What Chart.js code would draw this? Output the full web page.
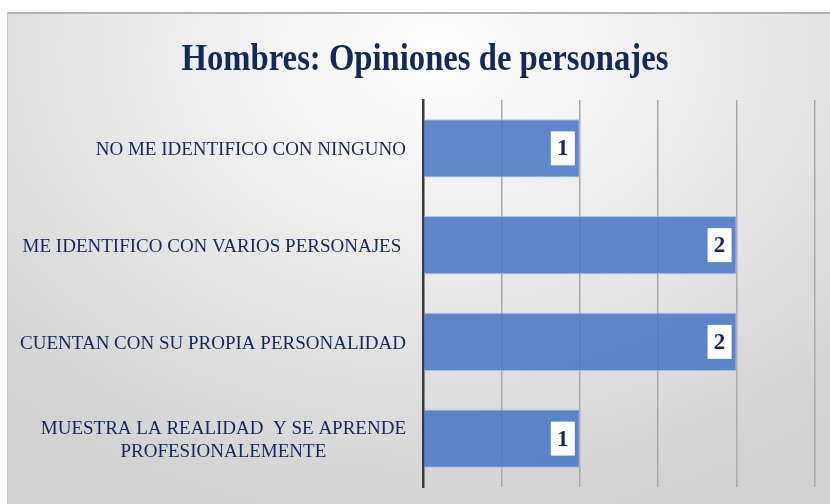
<!DOCTYPE html>
<html>
<head>
<meta charset="utf-8">
<script src="https://cdn.jsdelivr.net/npm/chart.js@4"></script>
<style>
  html, body { margin: 0; padding: 0; background: #ffffff; }
  #frame {
    position: absolute; left: 7px; top: 12px; width: 823px; height: 492px;
    border-top: 2px solid #b4b4b4; border-left: 1px solid #c4c4c4;
    box-sizing: border-box;
    background: radial-gradient(ellipse 75% 95% at 52% 8%, #ffffff 0%, #f2f2f2 30%, #d9d9d9 85%, #d2d2d2 100%);
  }
  #wrap { position: absolute; left: 0; top: 0; width: 822px; height: 490px; }
</style>
</head>
<body>
<div id="frame"><div id="wrap"><canvas id="chart"></canvas></div></div>
<script>
const chartTitle = 'Hombres: Opiniones de personajes';
const categories = [
  ['NO ME IDENTIFICO CON NINGUNO'],
  ['ME IDENTIFICO CON VARIOS PERSONAJES '],
  ['CUENTAN CON SU PROPIA PERSONALIDAD'],
  ['MUESTRA LA REALIDAD  Y SE APRENDE', 'PROFESIONALEMENTE']
];
const values = [1, 2, 2, 1];
const navy = '#13295c';
const serif = '"Liberation Serif", "Times New Roman", serif';

// title drawn narrow and tall, like the original
const narrowTitle = {
  id: 'narrowTitle',
  afterDraw(chart) {
    const { ctx, width } = chart;
    ctx.save();
    ctx.font = 'bold 38px ' + serif;
    ctx.fillStyle = navy;
    ctx.textAlign = 'center';
    ctx.textBaseline = 'alphabetic';
    ctx.translate(width / 2 + 6, 56);
    ctx.scale(0.86, 1);
    ctx.fillText(chartTitle, 0, 0);
    ctx.restore();
  }
};

// labels drawn by hand so multi-line ones are centred like the original
const catLabels = {
  id: 'catLabels',
  afterDraw(chart) {
    const { ctx, scales: { y } } = chart;
    ctx.save();
    ctx.font = '19px ' + serif;
    ctx.fillStyle = navy;
    ctx.textBaseline = 'middle';
    ctx.textAlign = 'center';
    const right = y.right - 17;
    categories.forEach((lines, i) => {
      const w = Math.max(...lines.map(l => ctx.measureText(l).width));
      const cx = right - w / 2;
      const yc = y.getPixelForValue(i) + 2;
      const lh = 23;
      lines.forEach((l, k) => {
        ctx.fillText(l, cx, yc + (k - (lines.length - 1) / 2) * lh);
      });
    });
    ctx.restore();
  }
};

// white value boxes at the end of each bar
const valueBoxes = {
  id: 'valueBoxes',
  afterDatasetsDraw(chart) {
    const { ctx } = chart;
    const meta = chart.getDatasetMeta(0);
    ctx.save();
    ctx.font = 'bold 23px ' + serif;
    ctx.textAlign = 'center';
    ctx.textBaseline = 'middle';
    meta.data.forEach((bar, i) => {
      const bw = 24, bh = 34;
      const x1 = bar.x - 5 - bw;
      ctx.fillStyle = '#ffffff';
      ctx.fillRect(x1, bar.y - bh / 2, bw, bh);
      ctx.fillStyle = navy;
      ctx.fillText(String(values[i]), x1 + bw / 2, bar.y + 1);
    });
    ctx.restore();
  }
};

new Chart(document.getElementById('chart'), {
  type: 'bar',
  data: {
    labels: categories.map(c => c.join(' ')),
    datasets: [{
      data: values,
      backgroundColor: 'rgba(74, 120, 198, 0.88)',
      borderColor: 'rgba(160, 185, 228, 0.9)',
      borderWidth: 1,
      categoryPercentage: 1,
      barPercentage: 0.6
    }]
  },
  options: {
    indexAxis: 'y',
    responsive: true,
    maintainAspectRatio: false,
    animation: false,
    layout: { padding: { left: 0, right: 15, top: 86, bottom: 17 } },
    plugins: {
      legend: { display: false },
      tooltip: { enabled: false },
      title: { display: false }
    },
    scales: {
      x: {
        min: 0, max: 2.5,
        ticks: { display: false, stepSize: 0.5 },
        grid: { color: '#a9a9a9', lineWidth: 1.5, drawTicks: false },
        border: { display: false }
      },
      y: {
        ticks: { display: false },
        grid: { display: false },
        border: { display: true, color: '#3a3a3a', width: 2.5 },
        afterFit(scale) { scale.width = 415; }
      }
    }
  },
  plugins: [catLabels, valueBoxes, narrowTitle]
});
</script>
</body>
</html>
